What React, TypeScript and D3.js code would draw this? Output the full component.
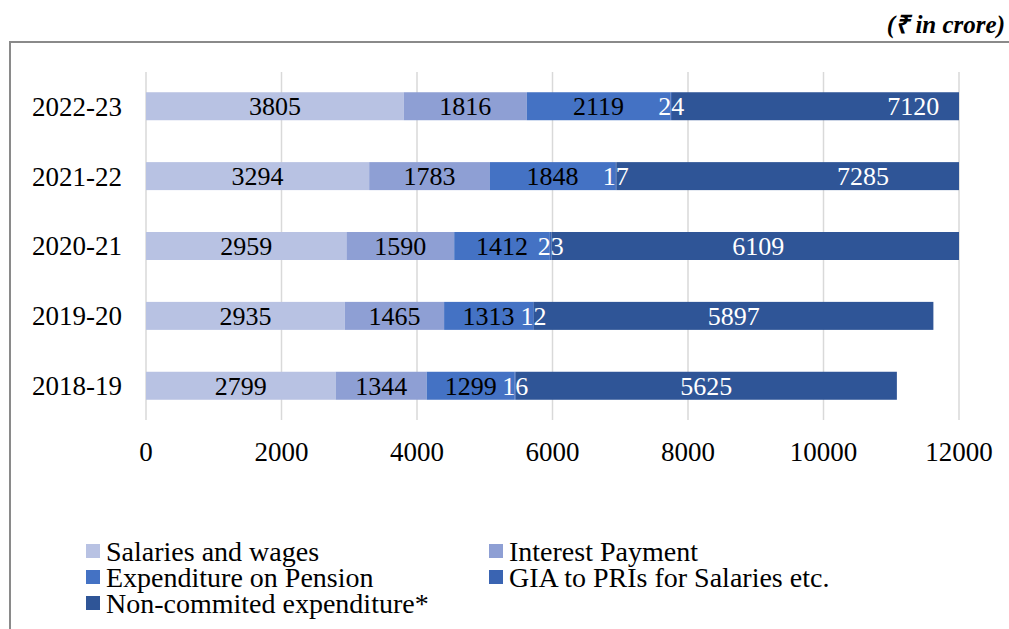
import React from "react";
import * as d3 from "d3";

const years = ["2022-23", "2021-22", "2020-21", "2019-20", "2018-19"];
const seriesNames = [
  "Salaries and wages",
  "Interest Payment",
  "Expenditure on Pension",
  "GIA to PRIs for Salaries etc.",
  "Non-commited expenditure*",
];
const salaries = [3805, 3294, 2959, 2935, 2799];
const interest = [1816, 1783, 1590, 1465, 1344];
const pension = [2119, 1848, 1412, 1313, 1299];
const gia = [24, 17, 23, 12, 16];
const nonCommitted = [7120, 7285, 6109, 5897, 5625];
const xTicks = [0, 2000, 4000, 6000, 8000, 10000, 12000];

const colors = ["#B8C2E3", "#8E9FD4", "#4472C4", "#3A64B2", "#2F5597"];
const labelColors = ["#000", "#000", "#000", "#fff", "#fff"];

const FONT = "'Liberation Serif', 'Times New Roman', serif";

export default function App() {
  const W = 1009;
  const H = 629;
  const x = d3.scaleLinear().domain([0, 12000]).range([146, 959]);
  const y = d3
    .scaleBand<string>()
    .domain(years)
    .range([72, 420])
    .paddingInner(0.6)
    .paddingOuter(0.29);
  const bw = y.bandwidth();
  const barH = 28;

  const allSeries = [salaries, interest, pension, gia, nonCommitted];
  const rows = years.map((yr, i) => {
    let acc = 0;
    return allSeries.map((s, k) => {
      const v = s[i];
      const start = acc;
      acc += v;
      return { yr, k, v, start, end: acc };
    });
  });

  const legendItems = [
    { k: 0, x: 86, y: 551 },
    { k: 1, x: 489, y: 551 },
    { k: 2, x: 86, y: 577 },
    { k: 3, x: 489, y: 577 },
    { k: 4, x: 86, y: 603 },
  ];

  return (
    <svg
      width={W}
      height={H}
      style={{ position: "absolute", left: 0, top: 0, display: "block", background: "#fff" }}
      fontFamily={FONT}
    >
      <rect x={0} y={0} width={W} height={H} fill="#fff" />
      <rect x={10} y={42} width={W + 20} height={H + 20} fill="none" stroke="#8a8a8a" strokeWidth={2} />
      <text
        x={1005}
        y={33}
        textAnchor="end"
        fontSize={25}
        fontWeight="bold"
        fontStyle="italic"
        fill="#000"
      >
        (₹ in crore)
      </text>

      {xTicks.map((t) => (
        <line key={"g" + t} x1={x(t)} x2={x(t)} y1={72} y2={420} stroke="#d9d9d9" strokeWidth={1.5} />
      ))}

      {rows.map((segs, i) => {
        const yc = (y(years[i]) as number) + bw / 2;
        return (
          <g key={years[i]}>
            {segs.map((s) => {
              const x0 = x(Math.min(s.start, 12000));
              const x1 = x(Math.min(s.end, 12000));
              return (
                <rect
                  key={s.k}
                  x={x0}
                  y={yc - barH / 2}
                  width={Math.max(0, x1 - x0)}
                  height={barH}
                  fill={colors[s.k]}
                />
              );
            })}
            {segs.map((s) => (
              <text
                key={"l" + s.k}
                x={x((s.start + s.end) / 2)}
                y={yc}
                dy="0.35em"
                textAnchor="middle"
                fontSize={26}
                fill={labelColors[s.k]}
              >
                {s.v}
              </text>
            ))}
            <text x={122} y={yc} dy="0.35em" textAnchor="end" fontSize={27} fill="#000">
              {years[i]}
            </text>
          </g>
        );
      })}

      {xTicks.map((t) => (
        <text key={"t" + t} x={x(t)} y={452} dy="0.35em" textAnchor="middle" fontSize={27} fill="#000">
          {t}
        </text>
      ))}

      {legendItems.map((it) => (
        <g key={"lg" + it.k}>
          <rect x={it.x} y={it.y - 7} width={14} height={14} fill={colors[it.k]} />
          <text x={it.x + 20} y={it.y} dy="0.35em" fontSize={28} fill="#000">
            {seriesNames[it.k]}
          </text>
        </g>
      ))}
    </svg>
  );
}
